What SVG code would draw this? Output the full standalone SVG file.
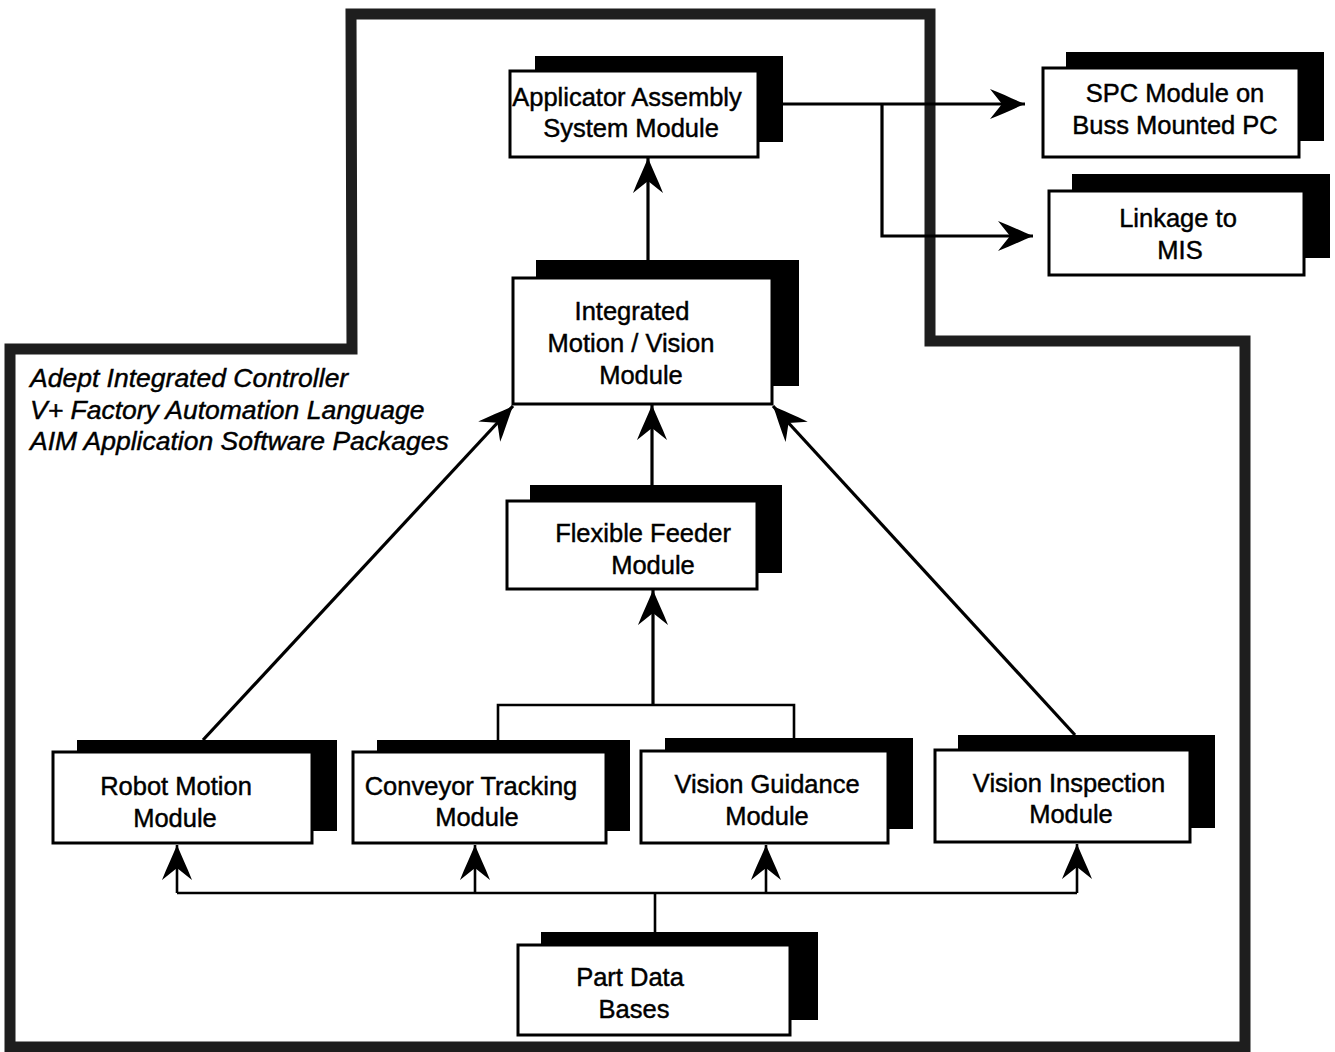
<svg xmlns="http://www.w3.org/2000/svg" width="1335" height="1052" viewBox="0 0 1335 1052">
  <style>
    .shadow { fill: #000; }
    .box { fill: #fff; stroke: #000; stroke-width: 3; }
    .label { font-family: "Liberation Sans", Arial, sans-serif; font-size: 25.5px; fill: #000; stroke: #000; stroke-width: 0.45; text-anchor: middle; }
    .note { font-family: "Liberation Sans", Arial, sans-serif; font-size: 26.5px; font-style: italic; fill: #000; stroke: #000; stroke-width: 0.45; }
    .wire { fill: none; stroke: #000; stroke-width: 3.2; }
    .bus { fill: none; stroke: #000; stroke-width: 2.6; }
    .frame { fill: none; stroke: #1e1e1e; stroke-width: 11; stroke-linejoin: miter; }
  </style>
  <defs>
    <marker id="ah" markerUnits="userSpaceOnUse" orient="auto" refX="0" refY="0" markerWidth="1" markerHeight="1" overflow="visible">
      <path d="M0,0 C-10,-4 -22,-10 -35,-15 L-23,0 L-35,15 C-22,10 -10,4 0,0 Z" fill="#000"/>
    </marker>
  </defs>
  <rect width="1335" height="1052" fill="#fff"/>

  <!-- controller boundary -->
  <path class="frame" d="M351,14 H930 V341 H1245 V1047 H10 V349 H352 Z"/>

  <g id="controller-notes">
    <text class="note" x="30" y="387">Adept Integrated Controller</text>
    <text class="note" x="30" y="419">V+ Factory Automation Language</text>
    <text class="note" x="30" y="450">AIM Application Software Packages</text>
  </g>

  <g id="connectors">
    <path class="wire" d="M783,104 H1025" marker-end="url(#ah)"/>
    <path class="wire" d="M882,104 V236 H1033" marker-end="url(#ah)"/>
    <path class="wire" d="M648,278 V158" marker-end="url(#ah)"/>
    <path class="wire" d="M652,501 V405" marker-end="url(#ah)"/>
    <path class="wire" d="M203,740 L513,406" marker-end="url(#ah)"/>
    <path class="wire" d="M1075,735 L773,406" marker-end="url(#ah)"/>
    <path class="bus" d="M498,740 V705 H794 V738"/>
    <path class="wire" d="M653,705 V590" marker-end="url(#ah)"/>
    <path class="bus" d="M655,932 V893"/>
    <path class="bus" d="M177,893 H1077"/>
    <path class="bus" d="M177,893 V845" marker-end="url(#ah)"/>
    <path class="bus" d="M475,893 V845" marker-end="url(#ah)"/>
    <path class="bus" d="M766,893 V845" marker-end="url(#ah)"/>
    <path class="bus" d="M1077,893 V844" marker-end="url(#ah)"/>
  </g>

  <g id="applicator">
    <rect class="shadow" x="535" y="56" width="248" height="86"/>
    <rect class="box" x="510" y="71" width="248" height="86"/>
    <text class="label" x="627" y="106">Applicator Assembly</text>
    <text class="label" x="631" y="137">System Module</text>
  </g>

  <g id="spc">
    <rect class="shadow" x="1066" y="52" width="258" height="89"/>
    <rect class="box" x="1043" y="68" width="256" height="89"/>
    <text class="label" x="1175" y="102">SPC Module on</text>
    <text class="label" x="1175" y="134">Buss Mounted PC</text>
  </g>

  <g id="mis-link">
    <rect class="shadow" x="1072" y="174" width="258" height="84"/>
    <rect class="box" x="1049" y="191" width="255" height="84"/>
    <text class="label" x="1178" y="227">Linkage to</text>
    <text class="label" x="1180" y="259">MIS</text>
  </g>

  <g id="motion-vision">
    <rect class="shadow" x="536" y="260" width="263" height="126"/>
    <rect class="box" x="513" y="278" width="259" height="126"/>
    <text class="label" x="632" y="320">Integrated</text>
    <text class="label" x="631" y="352">Motion / Vision</text>
    <text class="label" x="641" y="384">Module</text>
  </g>

  <g id="feeder">
    <rect class="shadow" x="530" y="485" width="252" height="88"/>
    <rect class="box" x="507" y="501" width="250" height="88"/>
    <text class="label" x="643" y="542">Flexible Feeder</text>
    <text class="label" x="653" y="574">Module</text>
  </g>

  <g id="robot-motion">
    <rect class="shadow" x="77" y="740" width="260" height="91"/>
    <rect class="box" x="53" y="752" width="259" height="91"/>
    <text class="label" x="176" y="795">Robot Motion</text>
    <text class="label" x="175" y="827">Module</text>
  </g>

  <g id="conveyor">
    <rect class="shadow" x="377" y="740" width="253" height="91"/>
    <rect class="box" x="353" y="752" width="253" height="91"/>
    <text class="label" x="471" y="795">Conveyor Tracking</text>
    <text class="label" x="477" y="826">Module</text>
  </g>

  <g id="vision-guidance">
    <rect class="shadow" x="665" y="738" width="248" height="91"/>
    <rect class="box" x="641" y="751" width="247" height="92"/>
    <text class="label" x="767" y="793">Vision Guidance</text>
    <text class="label" x="767" y="825">Module</text>
  </g>

  <g id="vision-inspection">
    <rect class="shadow" x="958" y="735" width="257" height="93"/>
    <rect class="box" x="935" y="750" width="255" height="92"/>
    <text class="label" x="1069" y="792">Vision Inspection</text>
    <text class="label" x="1071" y="823">Module</text>
  </g>

  <g id="part-data">
    <rect class="shadow" x="541" y="932" width="277" height="88"/>
    <rect class="box" x="518" y="945" width="272" height="90"/>
    <text class="label" x="630" y="986">Part Data</text>
    <text class="label" x="634" y="1018">Bases</text>
  </g>
</svg>
